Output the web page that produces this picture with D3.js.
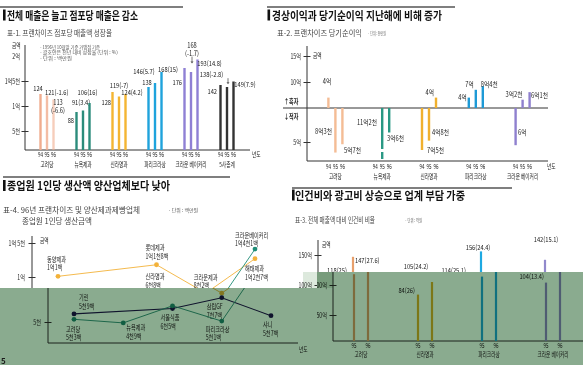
<!DOCTYPE html>
<html><head><meta charset="utf-8">
<script src="https://cdn.jsdelivr.net/npm/d3@7"></script>
<style>
body{margin:0;background:#fff}
svg{display:block}
text{font-family:"Noto Sans CJK KR","Noto Sans",sans-serif}
</style>
</head><body><div id="c"></div>
<script>
// ================= DATA =================
// 표-1 프랜차이즈 점포당 매출액 성장율 (단위: 백만원)
const t1Groups = ["고려당","뉴욕제과","신라명과","파리크라상","크라운 베이커리","5사총계"];
const t1Years = ["94","95","96"];
const t1Values = [[124,121,113],[88,91,106],[128,119,124],[138,146,168],[176,168,193],[142,138,149]];
const t1Growth = [[null,-1.6,-6.6],[null,3.4,16],[null,-7,4.2],[null,5.7,15],[null,-1.7,14.8],[null,-2.8,7.9]];
const t1Ticks = [50,100,150,200];
const t1TickLabels = ["5천","1억","1억5천","2억"];
const t1Notes = ["- 1996년 10월말 기준 가맹점 기준","- 괄호안은 전년 대비 성장율 (단위 : %)","- 단위 : 백만원"];

// 표-2 프랜차이즈 당기순이익 (억원)
const t2Groups = ["고려당","뉴욕제과","신라명과","파리크라상","크라운 베이커리"];
const t2Years = ["94","95","96"];
const t2Values = [[4,-8.3,-5.7],[null,-11.2,-3.6],[-7.5,-4.8,4],[4,7,8.4],[-6,3.2,6.1]];
const t2Ticks = [-5,10,15];
const t2TickLabels = ["5억","10억","15억"];

// 표-4 96년 종업원 1인당 생산금액 (백만원)
const t4Series = ["양산제과","양산제빵","프랜차이즈"];
const t4Names = [
  ["동양제과",null,"롯데제과","크라운제과","해태제과"],
  ["기린",null,"서울식품","삼립GF","샤니"],
  ["고려당","뉴욕제과","신라명과","파리크라상","크라운베이커리"]
];
const t4Values = [
  [101,null,118,82,127],
  [59,null,65,77,57],
  [53,49,68,51,141]
];
const t4Ticks = [50,100,150];
const t4TickLabels = ["5천","1억","1억 5천"];

// 표-3 전체 매출액 대비 인건비 비율 (억원)
const t3Groups = ["고려당","신라명과","파리크라상","크라운 베이커리"];
const t3Years = ["95","96"];
const t3Values = [[118,147],[84,105],[114,156],[104,142]];
const t3Ratio = [[25,27.6],[26,24.2],[25.1,24.4],[13.4,15.1]];
const t3Ticks = [50,100,150];
const t3TickLabels = ["50억","100억","150억"];

// ================= STYLE / LAYOUT =================
const W = 583, H = 365;
const SX = 0.72, SXN = 0.82;
const NUMF = '"Liberation Sans","Noto Sans CJK KR",sans-serif';
const grpColors1 = ["#f0ac8e","#2b8c7b","#f4b532","#1fa3dc","#8f80d4","#333"];
const grpColors2 = ["#f4bc95","#2a9884","#f0b02e","#1e9ad6","#8f80cf"];
const serColors = ["#f3b23a","#1b1b4e","#1f8c76"];
const grpColors3 = ["#e8a06c","#e6b22a","#1ea9e2","#9189cc"];

const t1Lay = [
 [[-2.5,-5,"middle"],[-2,-3.4,"start"],[4.5,3.5,"middle",1]],
 [[-2.5,9,"end"],[-2,-7.5,"middle"],[-2,-10,"middle"]],
 [[-1.5,11,"end"],[0,-11.4,"middle"],[6.5,-1,"middle"]],
 [[-1.5,-4.6,"middle"],[-11,-11.8,"middle"],[6.5,-2,"middle"]],
 [[-2.5,15,"end"],[1,-26,"middle",1,[-15.4,-8.4]],[12,3.8,"middle"]],
 [[-3.5,7,"end"],[-15.5,-12,"middle",0,[-8.8,-2.8]],[11.5,3.5,"middle"]]
];
const t2Lay = [
 [[-1.4,-15.6,"middle"],[-3.4,-20.6,"end"],[1.6,5.8,"start"]],
 [null,[-5.2,-39.8,"end"],[-2.2,6.5,"start"]],
 [[5,1,"start"],[3,-8.6,"start"],[-2,-4.6,"end"]],
 [[-2,0.4,"end"],[-2,-4.8,"end"],[-2,-1.2,"start"]],
 [[2.4,-12.2,"start"],[-8.6,-4.7,"middle"],[1.4,2.9,"start"]]
];
const t4Lay = [
 [[-11,-17],null,[-11,-17],[-12,-16],[-10,10]],
 [[5,-16],null,[-12,9],[-15,9],[-8,9]],
 [[-8,10],[3,5],[-11,-29],[-16,8],[-20,-14]]
];
const t3Lay = [
 [[-2,-4,"middle"],[2,4,"start"]],
 [[-3,-3.6,"end"],[-1,-15,"middle"]],
 [[-1,-5.6,"end"],[-3,-4,"middle"]],
 [[-2,-5.6,"end"],[1,-20,"middle"]]
];

// ================= OVERLAY MODE =================
// the lower strip of the picture is a shifted, green-tinted copy of the page
let MODE = {dx: 0, reg: null};
const inL = (x, y) => x < 317 && y >= 288;
const inR = (x, y) => x >= 317 && y >= 272;
function visible(x, y) {
  const ax = x + MODE.dx;
  if (!MODE.reg) return !(inL(ax, y) || inR(ax, y));
  return MODE.reg === "L" ? inL(ax, y) : inR(ax, y);
}

// ================= HELPERS =================
function T(g, x, y, s, o = {}) {
  if (!visible(x, y)) return null;
  const lines = Array.isArray(s) ? s : [s];
  const sx = o.sx || (o.num ? SXN : SX);
  const t = g.append("text")
    .attr("transform", `translate(${x},${y}) scale(${sx},1)`)
    .attr("text-anchor", o.a || "start")
    .attr("font-size", o.fs || (o.num ? 7 : 7.2))
    .attr("fill", o.c || "#222");
  if (o.num) t.attr("font-family", NUMF);
  if (o.w) t.attr("font-weight", o.w);
  lines.forEach((ln, i) => t.append("tspan").attr("x", 0).attr("dy", i === 0 ? "0.35em" : (o.lh || 8.5)).text(ln));
  return t;
}
function TL(g, x, y, s, w, o = {}) {
  if (!visible(x, y)) return null;
  return g.append("text")
    .attr("x", x).attr("y", y).attr("dy", "0.35em")
    .attr("font-size", o.fs || 8)
    .attr("font-weight", o.w || "normal")
    .attr("fill", o.c || "#333")
    .attr("textLength", w).attr("lengthAdjust", "spacingAndGlyphs")
    .text(s);
}
function header(g, lx1, lx2, ly, mx, my, title, tx, ty, tw) {
  g.append("line").attr("x1", lx1).attr("x2", lx2).attr("y1", ly).attr("y2", ly)
    .attr("stroke", "#555").attr("stroke-width", 1.3);
  g.append("rect").attr("x", mx).attr("y", my).attr("width", 2.6).attr("height", 11).attr("fill", "#111");
  TL(g, tx, ty, title, tw, {fs: 11.5, w: "bold", c: "#111"});
}
function line(g, x1, y1, x2, y2, c = "#333", sw = 1) {
  return g.append("line").attr("x1", x1).attr("y1", y1).attr("x2", x2).attr("y2", y2)
    .attr("stroke", c).attr("stroke-width", sw);
}
function yAxis(g, x, scale, ticks, labels, opts = {}) {
  const pad = opts.pad || 6;
  const ax = d3.axisLeft(scale).tickValues(ticks).tickFormat((d, i) => labels[i]).tickSize(0).tickPadding(0);
  const a = g.append("g").attr("transform", `translate(${x},0)`).call(ax);
  a.select(".domain").remove();
  a.selectAll(".tick line").attr("x1", -3.5).attr("x2", 3.5).attr("stroke", "#333").attr("stroke-width", 1)
    .filter((d) => opts.noTick && opts.noTick.includes(d)).remove();
  a.selectAll(".tick text")
    .attr("x", null).attr("dy", "0.35em")
    .attr("transform", `translate(${-pad},0) scale(${SX},1)`)
    .attr("font-size", 7.2).attr("fill", "#222")
    .attr("font-family", '"Noto Sans CJK KR",sans-serif').attr("text-anchor", "end");
  a.selectAll(".tick").each(function (d) {
    if (!visible(x - pad, scale(d))) d3.select(this).select("text").remove();
  });
  return a;
}
const fmtMan = v => {
  const e = Math.floor(v / 100), r = v % 100, c = Math.floor(r / 10), b = r % 10;
  return (e ? e + "억" : "") + (c ? c + "천" : "") + (b ? b + "백" : "");
};
const fmtEok = v => {
  const a = Math.abs(v), e = Math.floor(a + 1e-9), c = Math.round((a - e) * 10);
  return e + "억" + (c ? c + "천" : "");
};

// ================= PANEL 1 =================
function panel1(g) {
  header(g, 0, 183, 7, 3, 9.5, "전체 매출은 늘고 점포당 매출은 감소", 7, 15.5, 131);
  TL(g, 7, 33, "표-1. 프랜차이즈 점포당 매출액 성장율", 105, {fs: 8, c: "#444"});
  const noteW = [60, 78, 32];
  t1Notes.forEach((n, i) => TL(g, 40, 47 + i * 5.6, n, noteW[i], {fs: 5, c: "#555"}));
  const x0 = d3.scaleBand().domain(t1Groups).range([29, 245]);
  const x1 = d3.scalePoint().domain(t1Years).range([-6.5, 6.5]);
  const y = d3.scaleLinear().domain([100, 150]).range([106, 81]);
  const base = 150;
  line(g, 25, 45, 25, base);
  line(g, 25, base, 250, base);
  yAxis(g, 25, y, t1Ticks, t1TickLabels, {noTick: [200], pad: 5});
  T(g, 12, 45.5, "금액", {fs: 6.5});
  t1Groups.forEach((grp, gi) => {
    const cx = x0(grp) + x0.bandwidth() / 2;
    t1Years.forEach((yr, yi) => {
      const v = t1Values[gi][yi];
      const bx = cx + x1(yr);
      g.append("line").attr("x1", bx).attr("x2", bx).attr("y1", base).attr("y2", y(v))
        .attr("stroke", grpColors1[gi]).attr("stroke-width", 2.4)
        .attr("stroke-opacity", gi === 0 ? [1, 0.8, 0.6][yi] : 1);
      T(g, bx, 155, yr, {a: "middle", fs: 6, num: 1, sx: 0.75});
      const L = t1Lay[gi][yi];
      const gr = t1Growth[gi][yi];
      const top = y(v);
      const lbl = gr === null ? String(v) : (L[3] ? [String(v), "(" + gr + ")"] : v + "(" + gr + ")");
      T(g, bx + L[0], top + L[1], lbl, {a: L[2], num: 1, lh: 7.5});
      if (L[4]) {
        line(g, bx + 1, top + L[4][0], bx + 1, top + L[4][1] - 1.5, "#555", 0.8);
        g.append("path").attr("d", `M${bx - 0.5},${top + L[4][1] - 2}L${bx + 2.5},${top + L[4][1] - 2}L${bx + 1},${top + L[4][1]}Z`).attr("fill", "#555");
      }
    });
    T(g, cx, 164.5, grp, {a: "middle", fs: 6.5});
  });
  T(g, 252, 155, "년도", {fs: 6.5});
}

// ================= PANEL 2 =================
function panel2(g) {
  header(g, 267, 455, 7, 267.5, 9.5, "경상이익과 당기순이익 지난해에 비해 증가", 272, 15.5, 170);
  TL(g, 277, 33, "표-2. 프랜차이즈 당기순이익", 85, {fs: 8, c: "#444"});
  TL(g, 368, 33, "· 단위 : 천만원", 18, {fs: 5, c: "#555"});
  const x0 = d3.scaleBand().domain(t2Groups).range([312, 546]);
  const x1 = d3.scalePoint().domain(t2Years).range([-7, 7]);
  const y = d3.scaleLinear().domain([-12, -5, 0, 10, 15]).range([164.4, 142, 108, 82, 56]);
  const base = 161;
  line(g, 307, 46, 307, base);
  line(g, 307, base, 548, base);
  line(g, 283, y(0), 548, y(0), "#333", 1);
  yAxis(g, 307, y, t2Ticks, t2TickLabels, {pad: 6});
  T(g, 313, 56, "금액", {fs: 6.5});
  T(g, 284, 102, "↑흑자", {fs: 7, w: "bold"});
  T(g, 284, 117, "↓적자", {fs: 7, w: "bold"});
  t2Groups.forEach((grp, gi) => {
    const cx = x0(grp) + x0.bandwidth() / 2;
    t2Years.forEach((yr, yi) => {
      const bx = cx + x1(yr);
      T(g, bx, 167, yr, {a: "middle", fs: 6, num: 1, sx: 0.75});
      const v = t2Values[gi][yi];
      if (v === null) return;
      const ln = g.append("line").attr("x1", bx).attr("x2", bx).attr("y1", y(0)).attr("y2", Math.min(y(v), base - 2))
        .attr("stroke", grpColors2[gi]).attr("stroke-width", 2.4);
      if (v < -10) ln.attr("stroke-dasharray", "41,3,8");
      const L = t2Lay[gi][yi];
      T(g, bx + L[0], y(v) + L[1], fmtEok(v), {a: L[2], num: 1});
    });
    T(g, cx, 177, grp, {a: "middle", fs: 6.5});
  });
  T(g, 547, 167, "년도", {fs: 6.5});
}

// ================= PANEL 3 (표-4 line chart) =================
function panel3(g) {
  header(g, 3, 230, 177, 3, 180, "종업원 1인당 생산액 양산업체보다 낮아", 7, 185.5, 163);
  TL(g, 3, 210, "표-4. 96년 프랜차이즈 및 양산제과제빵업체", 137, {fs: 8, c: "#444"});
  TL(g, 22, 221.5, "종업원 1인당 생산금액", 70, {fs: 8, c: "#444"});
  TL(g, 168, 210, "· 단위 : 백만원", 30, {fs: 5, c: "#555"});
  const x = d3.scalePoint().domain(d3.range(5)).range([58, 255]);
  const y = d3.scaleLinear().domain(t4Ticks).range([322, 277, 243]);
  line(g, 32, 236, 32, 343);
  line(g, 32, 343, 282, 343);
  yAxis(g, 32, y, t4Ticks, t4TickLabels, {pad: 7});
  T(g, 40, 241, "금액", {fs: 6.5});
  T(g, 283, 350, "년도", {fs: 6.5});
  t4Series.forEach((s, si) => {
    const pts = t4Values[si].map((v, i) => v === null ? null : [x(i), y(v), v, i]).filter(d => d);
    g.append("path").attr("d", d3.line()(pts.map(p => [p[0], p[1]])))
      .attr("fill", "none").attr("stroke", serColors[si]).attr("stroke-width", si === 1 ? 1.1 : 0.9);
    pts.forEach(p => {
      g.append("circle").attr("cx", p[0]).attr("cy", p[1]).attr("r", 2.4).attr("fill", serColors[si]);
      const L = t4Lay[si][p[3]];
      T(g, p[0] + L[0], p[1] + L[1], [t4Names[si][p[3]], fmtMan(p[2])], {fs: 7.2, lh: 8.5});
    });
  });
}

// ================= PANEL 4 (표-3 bars) =================
function panel4(g) {
  header(g, 292, 512, 188, 292, 189.5, "인건비와 광고비 상승으로 업계 부담 가중", 295, 195.5, 170);
  TL(g, 295, 220, "표-3. 전체 매출액 대비 인건비 비율", 80, {fs: 8, c: "#444"});
  TL(g, 405, 220, "· 단위 : 억원", 17, {fs: 5, c: "#555"});
  const x0 = d3.scaleBand().domain(t3Groups).range([314, 570]);
  const x1 = d3.scalePoint().domain(t3Years).range([-7, 7]);
  const y = d3.scaleLinear().domain([50, 150]).range([315, 255]);
  const base = 341;
  line(g, 318, 240, 318, base);
  line(g, 318, base, 583, base);
  yAxis(g, 318, y, t3Ticks, t3TickLabels, {pad: 6});
  T(g, 322, 245, "금액", {fs: 6.5});
  t3Groups.forEach((grp, gi) => {
    const cx = x0(grp) + x0.bandwidth() / 2;
    t3Years.forEach((yr, yi) => {
      const v = t3Values[gi][yi];
      const bx = cx + x1(yr);
      g.append("line").attr("x1", bx).attr("x2", bx).attr("y1", base).attr("y2", y(v))
        .attr("stroke", grpColors3[gi]).attr("stroke-width", 2.2);
      T(g, bx, 346, yr, {a: "middle", fs: 6, num: 1, sx: 0.75});
      const L = t3Lay[gi][yi];
      T(g, bx + L[0], y(v) + L[1], v + "(" + t3Ratio[gi][yi] + ")", {a: L[2], num: 1});
    });
    T(g, cx, 355, grp, {a: "middle", fs: 6.5});
  });
}

// ================= RENDER =================
const svg = d3.select("#c").append("svg").attr("width", W).attr("height", H);
svg.append("rect").attr("width", W).attr("height", H).attr("fill", "#fff");
function drawAll(root) { panel1(root); panel2(root); panel3(root); panel4(root); }
MODE = {dx: 0, reg: null};
drawAll(svg.append("g"));

const defs = svg.append("defs");
defs.append("clipPath").attr("id", "clipL").append("rect").attr("x", 0).attr("y", 288).attr("width", 317).attr("height", 77);
defs.append("clipPath").attr("id", "clipR").append("rect").attr("x", 317).attr("y", 272).attr("width", 266).attr("height", 93);
[["clipL", "L", 16], ["clipR", "R", 15]].forEach(([id, reg, dx]) => {
  MODE = {dx, reg};
  const g = svg.append("g").attr("clip-path", `url(#${id})`);
  g.append("rect").attr("width", W).attr("height", H).attr("fill", "#fff");
  drawAll(g.append("g").attr("transform", `translate(${dx},0)`));
  g.append("rect").attr("width", W).attr("height", H).attr("fill", "#8aab8f").style("mix-blend-mode", "multiply");
});
MODE = {dx: 0, reg: null};
svg.append("rect").attr("x", 303).attr("y", 272).attr("width", 30).attr("height", 16)
  .attr("fill", "#dde9dd").style("mix-blend-mode", "multiply");
svg.append("text").attr("x", 1).attr("y", 364).attr("font-size", 8).attr("font-weight", "bold")
  .attr("fill", "#1a1a1a").text("5");
</script>
</body></html>
